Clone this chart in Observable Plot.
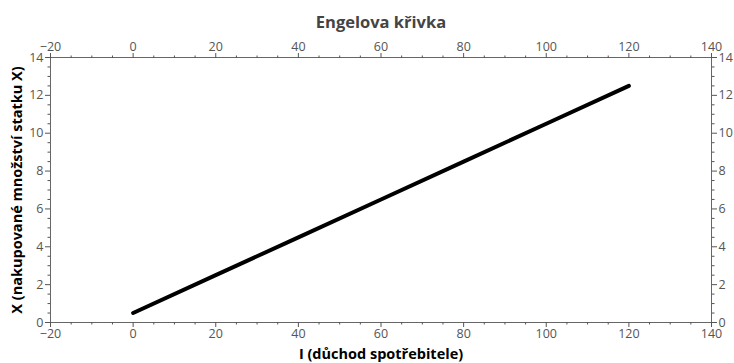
<!DOCTYPE html>
<html>
<head>
<meta charset="utf-8">
<script src="https://cdn.jsdelivr.net/npm/d3@7"></script>
<script src="https://cdn.jsdelivr.net/npm/@observablehq/plot@0.6"></script>
<style>
  html, body { margin: 0; padding: 0; background: #fff; }
</style>
</head>
<body>
<div id="chart"></div>
<script>
const titleText = "Engelova křivka";
const xLabelText = "I (důchod spotřebitele)";
const yLabelText = "X (nakupované množství statku X)";

const incomeI = [0, 20, 40, 60, 80, 100, 120];
const quantityX = [0.5, 2.5, 4.5, 6.5, 8.5, 10.5, 12.5];

const xMajorTicks = [-20, 0, 20, 40, 60, 80, 100, 120, 140];
const xMinorTicks = d3.range(-20, 140.001, 5).filter(v => v % 20 !== 0);
const yMajorTicks = [0, 2, 4, 6, 8, 10, 12, 14];
const yMinorTicks = d3.range(0, 14.001, 0.5).filter(v => v % 2 !== 0);

const data = incomeI.map((v, i) => ({I: v, X: quantityX[i]}));
const blank = () => "";
const axisColor = "#555";
const tickFont = 12.5;

const chart = Plot.plot({
  width: 734,
  height: 363,
  marginLeft: 50,
  marginRight: 23,
  marginTop: 57,
  marginBottom: 41,
  style: {fontFamily: "'Open Sans', sans-serif", fontSize: "12px", color: "#333", background: "#fff"},
  x: {domain: [-20, 140]},
  y: {domain: [0, 14]},
  marks: [
    Plot.frame({stroke: "#666"}),
    Plot.axisX(xMajorTicks, {anchor: "bottom", tickSize: 5, tickPadding: 2, label: null, color: axisColor, fontSize: tickFont}),
    Plot.axisX(xMinorTicks, {anchor: "bottom", tickSize: 2.5, label: null, tickFormat: blank, color: axisColor}),
    Plot.axisX(xMajorTicks, {anchor: "top", tickSize: 5, tickPadding: 2, label: null, color: axisColor, fontSize: tickFont}),
    Plot.axisX(xMinorTicks, {anchor: "top", tickSize: 2.5, label: null, tickFormat: blank, color: axisColor}),
    Plot.axisY(yMajorTicks, {anchor: "left", tickSize: 5, tickPadding: 2, label: null, color: axisColor, fontSize: tickFont}),
    Plot.axisY(yMinorTicks, {anchor: "left", tickSize: 2.5, label: null, tickFormat: blank, color: axisColor}),
    Plot.axisY(yMajorTicks, {anchor: "right", tickSize: 5, tickPadding: 2, label: null, color: axisColor, fontSize: tickFont}),
    Plot.axisY(yMinorTicks, {anchor: "right", tickSize: 2.5, label: null, tickFormat: blank, color: axisColor}),
    Plot.line(data, {x: "I", y: "X", stroke: "#000", strokeWidth: 4}),
    Plot.text([titleText], {frameAnchor: "top", textAnchor: "middle", lineAnchor: "middle", dy: -35, fontWeight: "bold", fontSize: 16.5, fill: "#444"}),
    Plot.text([xLabelText], {frameAnchor: "bottom", textAnchor: "middle", lineAnchor: "middle", dy: 32, fontWeight: "bold", fontSize: 14.5, fill: "#000"}),
    Plot.text([yLabelText], {frameAnchor: "left", textAnchor: "middle", lineAnchor: "middle", rotate: -90, dx: -33, fontWeight: "bold", fontSize: 14.5, fill: "#000"})
  ]
});
document.getElementById("chart").appendChild(chart);
</script>
</body>
</html>
